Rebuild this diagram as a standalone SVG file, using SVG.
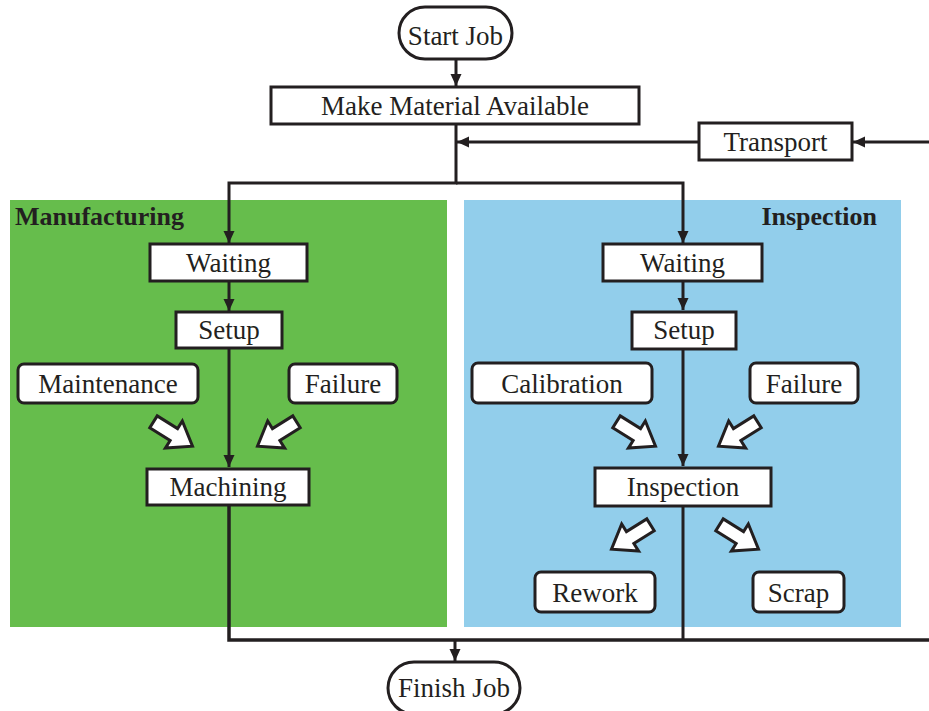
<svg xmlns="http://www.w3.org/2000/svg" width="929" height="711" viewBox="0 0 929 711">
<style>
.box{fill:#fff;stroke:#231f20;stroke-width:3}
.t{font-family:"Liberation Serif","Times New Roman",serif;font-size:27px;fill:#231f20;text-anchor:middle}
.h{font-family:"Liberation Serif","Times New Roman",serif;font-size:26px;font-weight:bold;fill:#231f20}
.c{fill:none;stroke:#231f20;stroke-width:3}
.ha{fill:#fff;stroke:#231f20;stroke-width:3;stroke-linejoin:miter}
</style>
<defs>
<marker id="ah" markerUnits="userSpaceOnUse" markerWidth="14" markerHeight="14" viewBox="0 0 14 14" refX="13" refY="7" orient="auto">
<path d="M1,1.5 L13,7 L1,12.5 Z" fill="#231f20"/>
</marker>
<polygon id="blk" points="-23,-7 1,-7 1,-16 23,0 1,16 1,7 -23,7"/>
</defs>
<rect x="10" y="200" width="437" height="427" fill="#66bd4c"/>
<rect x="464" y="200" width="437" height="427" fill="#92ceeb"/>
<text class="h" x="15" y="225">Manufacturing</text>
<text class="h" x="877" y="225" text-anchor="end">Inspection</text>
<g id="connectors">
<path class="c" d="M456,60 V86" marker-end="url(#ah)"/>
<path class="c" d="M929,142 H853" marker-end="url(#ah)"/>
<path class="c" d="M699,142 H457" marker-end="url(#ah)"/>
<path class="c" d="M456,124 V183 H229 V243" marker-end="url(#ah)"/>
<path class="c" d="M456,183 H683 V243" marker-end="url(#ah)"/>
<path class="c" d="M229,281 V311" marker-end="url(#ah)"/>
<path class="c" d="M683,281 V310" marker-end="url(#ah)"/>
<path class="c" d="M229,348 V467" marker-end="url(#ah)"/>
<path class="c" d="M683,349 V466" marker-end="url(#ah)"/>
<path class="c" d="M229,505 V640 H929" style="stroke-width:3.5"/>
<path class="c" d="M683,506 V640"/>
<path class="c" d="M455,640 V661" marker-end="url(#ah)"/>
<use href="#blk" class="ha" transform="translate(173,434) rotate(32)"/>
<use href="#blk" class="ha" transform="translate(277,434) rotate(148)"/>
<use href="#blk" class="ha" transform="translate(636,434) rotate(32)"/>
<use href="#blk" class="ha" transform="translate(738,434) rotate(148)"/>
<use href="#blk" class="ha" transform="translate(631,537) rotate(148)"/>
<use href="#blk" class="ha" transform="translate(739,537) rotate(32)"/>
</g>
<g id="start"><rect class="box" x="399" y="7" width="113" height="52" rx="26"/><text class="t" x="455.5" y="45">Start Job</text></g>
<g id="make"><rect class="box" x="271" y="87" width="368" height="37"/><text class="t" x="455" y="115">Make Material Available</text></g>
<g id="transport"><rect class="box" x="699" y="123" width="153" height="37"/><text class="t" x="775.5" y="151">Transport</text></g>
<g id="m-waiting"><rect class="box" x="150" y="244" width="157" height="37"/><text class="t" x="228.5" y="272">Waiting</text></g>
<g id="m-setup"><rect class="box" x="176" y="312" width="106" height="36"/><text class="t" x="229" y="339">Setup</text></g>
<g id="m-maint"><rect class="box" x="18" y="364" width="180" height="39" rx="6"/><text class="t" x="108" y="393">Maintenance</text></g>
<g id="m-failure"><rect class="box" x="289" y="364" width="108" height="39" rx="6"/><text class="t" x="343" y="393">Failure</text></g>
<g id="m-machining"><rect class="box" x="147" y="469" width="162" height="36"/><text class="t" x="228" y="496">Machining</text></g>
<g id="i-waiting"><rect class="box" x="603" y="244" width="159" height="37"/><text class="t" x="682.5" y="272">Waiting</text></g>
<g id="i-setup"><rect class="box" x="632" y="312" width="104" height="37"/><text class="t" x="684" y="339">Setup</text></g>
<g id="i-calib"><rect class="box" x="472" y="363" width="180" height="40" rx="6"/><text class="t" x="562" y="393">Calibration</text></g>
<g id="i-failure"><rect class="box" x="750" y="363" width="108" height="40" rx="6"/><text class="t" x="804" y="393">Failure</text></g>
<g id="i-inspection"><rect class="box" x="595" y="468" width="176" height="38"/><text class="t" x="683" y="496">Inspection</text></g>
<g id="rework"><rect class="box" x="535" y="572" width="120" height="40" rx="6"/><text class="t" x="595" y="602">Rework</text></g>
<g id="scrap"><rect class="box" x="753" y="572" width="91" height="40" rx="6"/><text class="t" x="798.5" y="602">Scrap</text></g>
<g id="finish"><rect class="box" x="388" y="662" width="132" height="52" rx="26"/><text class="t" x="454" y="697">Finish Job</text></g>
</svg>
